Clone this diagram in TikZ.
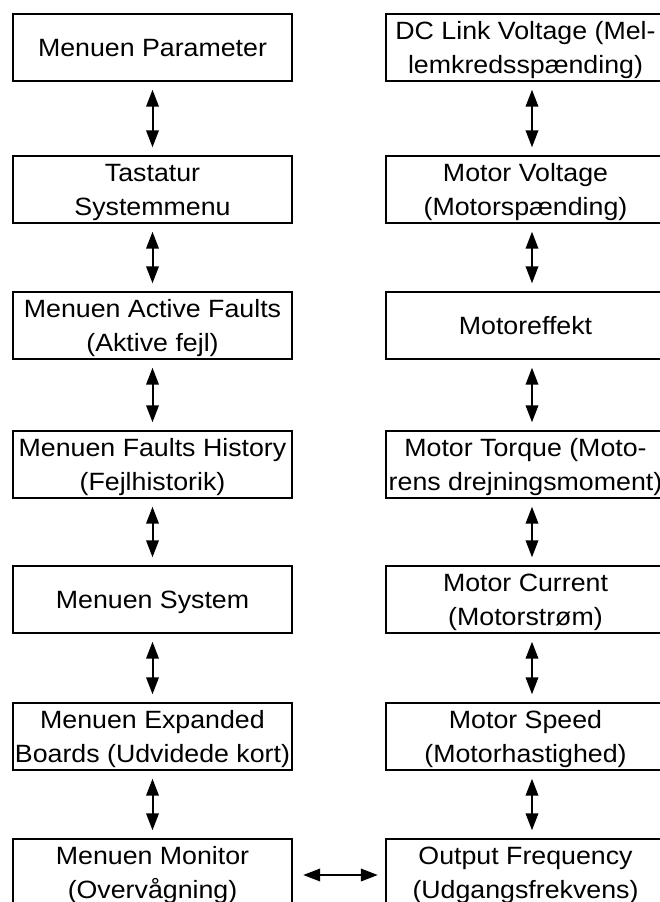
\documentclass[tikz,border=0pt]{standalone}
\usepackage{fontspec}
\setmainfont{Liberation Sans}[FakeStretch=1.07]
\usetikzlibrary{arrows.meta}
\newcommand\st{\rule[-7.75pt]{0pt}{33.5pt}}
\tikzset{
  box/.style={draw, line width=2.4pt, inner sep=0pt, minimum width=279pt, minimum height=67pt,
    align=center, font=\fontsize{25}{33.5}\selectfont},
  arr/.style={line width=2pt, {Triangle[length=17pt,width=12.5pt]}-{Triangle[length=17pt,width=12.5pt]}}
}
\begin{document}
\begin{tikzpicture}[x=1pt,y=-1pt]
\useasboundingbox (0,0) rectangle (659,902);
% left column
\node[box] (l1) at (152.5,47.5) {\st Menuen Parameter};
\node[box] (l2) at (152.5,189.5) {\st Tastatur\\\st Systemmenu};
\node[box] (l3) at (152.5,325.5) {\st Menuen Active Faults\\\st(Aktive fejl)};
\node[box] (l4) at (152.5,464.5) {\st Menuen Faults History\\\st(Fejlhistorik)};
\node[box] (l5) at (152.5,599.5) {\st Menuen System};
\node[box] (l6) at (152.5,736.5) {\st Menuen Expanded\\\st Boards (Udvidede kort)};
\node[box] (l7) at (152.5,872.5) {\st Menuen Monitor\\\st(Overvågning)};
% right column
\node[box] (r1) at (525.5,47.5) {\st DC Link Voltage (Mel-\\\st lemkredsspænding)};
\node[box] (r2) at (525.5,189.5) {\st Motor Voltage\\\st(Motorspænding)};
\node[box] (r3) at (525.5,325.5) {\st Motoreffekt};
\node[box] (r4) at (525.5,464.5) {\st Motor Torque (Moto-\\\st rens drejningsmoment)};
\node[box] (r5) at (525.5,599.5) {\st Motor Current\\\st(Motorstrøm)};
\node[box] (r6) at (525.5,736.5) {\st Motor Speed\\\st(Motorhastighed)};
\node[box] (r7) at (525.5,872.5) {\st Output Frequency\\\st(Udgangsfrekvens)};
% vertical arrows, left
\foreach \a/\b in {l1/l2,l2/l3,l3/l4,l4/l5,l5/l6,l6/l7}
  \draw[arr] ([yshift=-7.5pt]\a.south) -- ([yshift=7.5pt]\b.north);
% vertical arrows, right
\foreach \a/\b in {r1/r2,r2/r3,r3/r4,r4/r5,r5/r6,r6/r7}
  \draw[arr] ([xshift=6.5pt,yshift=-7.5pt]\a.south) -- ([xshift=6.5pt,yshift=7.5pt]\b.north);
% horizontal arrow
\draw[arr] ([xshift=10pt,yshift=-2.5pt]l7.east) -- ([xshift=-7pt,yshift=-2.5pt]r7.west);
\end{tikzpicture}
\end{document}
